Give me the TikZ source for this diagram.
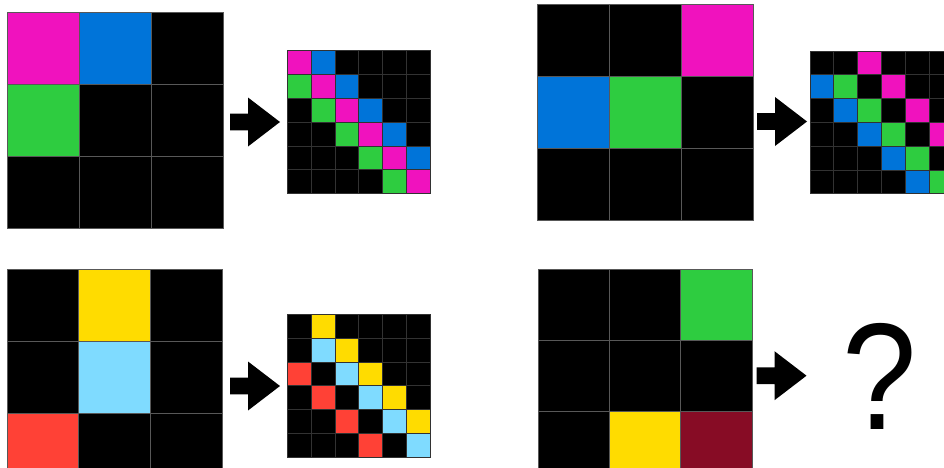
\documentclass[tikz,border=0pt]{standalone}
\usepackage{fontspec}
\newfontfamily\qfont{Liberation Sans}
\usepackage{tikz}
\usetikzlibrary{calc}
\definecolor{arcK}{RGB}{0,0,0}
\definecolor{arcB}{RGB}{0,116,217}
\definecolor{arcR}{RGB}{255,65,54}
\definecolor{arcG}{RGB}{46,204,64}
\definecolor{arcY}{RGB}{255,220,0}
\definecolor{arcM}{RGB}{240,18,190}
\definecolor{arcC}{RGB}{127,219,255}
\definecolor{arcW}{RGB}{135,12,37}
\definecolor{bigline}{RGB}{88,88,88}
\definecolor{smallline}{RGB}{50,50,50}

% #1 = cell style, #2 = left, #3 = top, #4 = cell size, #5 = rows of colours
\newcommand{\arcgrid}[5][bigcell]{%
  \foreach \row [count=\i from 0] in {#5} {
    \foreach \c [count=\j from 0] in \row {
      \filldraw[#1, fill=arc\c] ({#2+\j*#4},{#3+\i*#4}) rectangle ++(#4,#4);
    }
  }
}
% #1 = left end, #2 = middle height
\newcommand{\blockarrow}[2]{%
  \fill[black] (#1,{#2-8.3}) -- ++(18,0) -- ++(0,-16.2) -- ({#1+50},#2)
    -- ({#1+18},{#2+24.5}) -- ++(0,-16.2) -- (#1,{#2+8.3}) -- cycle;
}

\begin{document}
\begin{tikzpicture}[
    x=0.75pt, y=-0.75pt,
    bigcell/.style={draw=bigline, line width=0.6pt},
    smallcell/.style={draw=smallline, line width=0.5pt},
    qmark/.style={anchor=base, inner sep=0pt, font=\qfont\fontsize{114}{114}\selectfont}
]
\fill[white] (0,0) rectangle (944,467);
\clip (0,0) rectangle (944,467);

% top left pair
\arcgrid{7}{12.4}{72}{{M,B,K},{G,K,K},{K,K,K}}
\blockarrow{230}{122}
\arcgrid[smallcell]{287.3}{50.7}{23.8}{{M,B,K,K,K,K},{G,M,B,K,K,K},{K,G,M,B,K,K},{K,K,G,M,B,K},{K,K,K,G,M,B},{K,K,K,K,G,M}}

% top right pair
\arcgrid{537}{4}{72}{{K,K,M},{B,G,K},{K,K,K}}
\blockarrow{757}{121.5}
\arcgrid[smallcell]{810}{51}{23.8}{{K,K,M,K,K,K},{B,G,K,M,K,K},{K,B,G,K,M,K},{K,K,B,G,K,M},{K,K,K,B,G,K},{K,K,K,K,B,G}}

% bottom left pair
\arcgrid{7}{269.3}{71.8}{{K,Y,K},{K,C,K},{R,K,K}}
\blockarrow{230}{386}
\arcgrid[smallcell]{287.3}{314.3}{23.8}{{K,Y,K,K,K,K},{K,C,Y,K,K,K},{R,K,C,Y,K,K},{K,R,K,C,Y,K},{K,K,R,K,C,Y},{K,K,K,R,K,C}}

% bottom right pair
\arcgrid{538.3}{269.3}{71.2}{{K,K,G},{K,K,K},{K,Y,W}}
\blockarrow{756.5}{375.7}
\node[qmark] (question) at (880,429.3) {\scalebox{0.88}[1]{?}};
\end{tikzpicture}
\end{document}
